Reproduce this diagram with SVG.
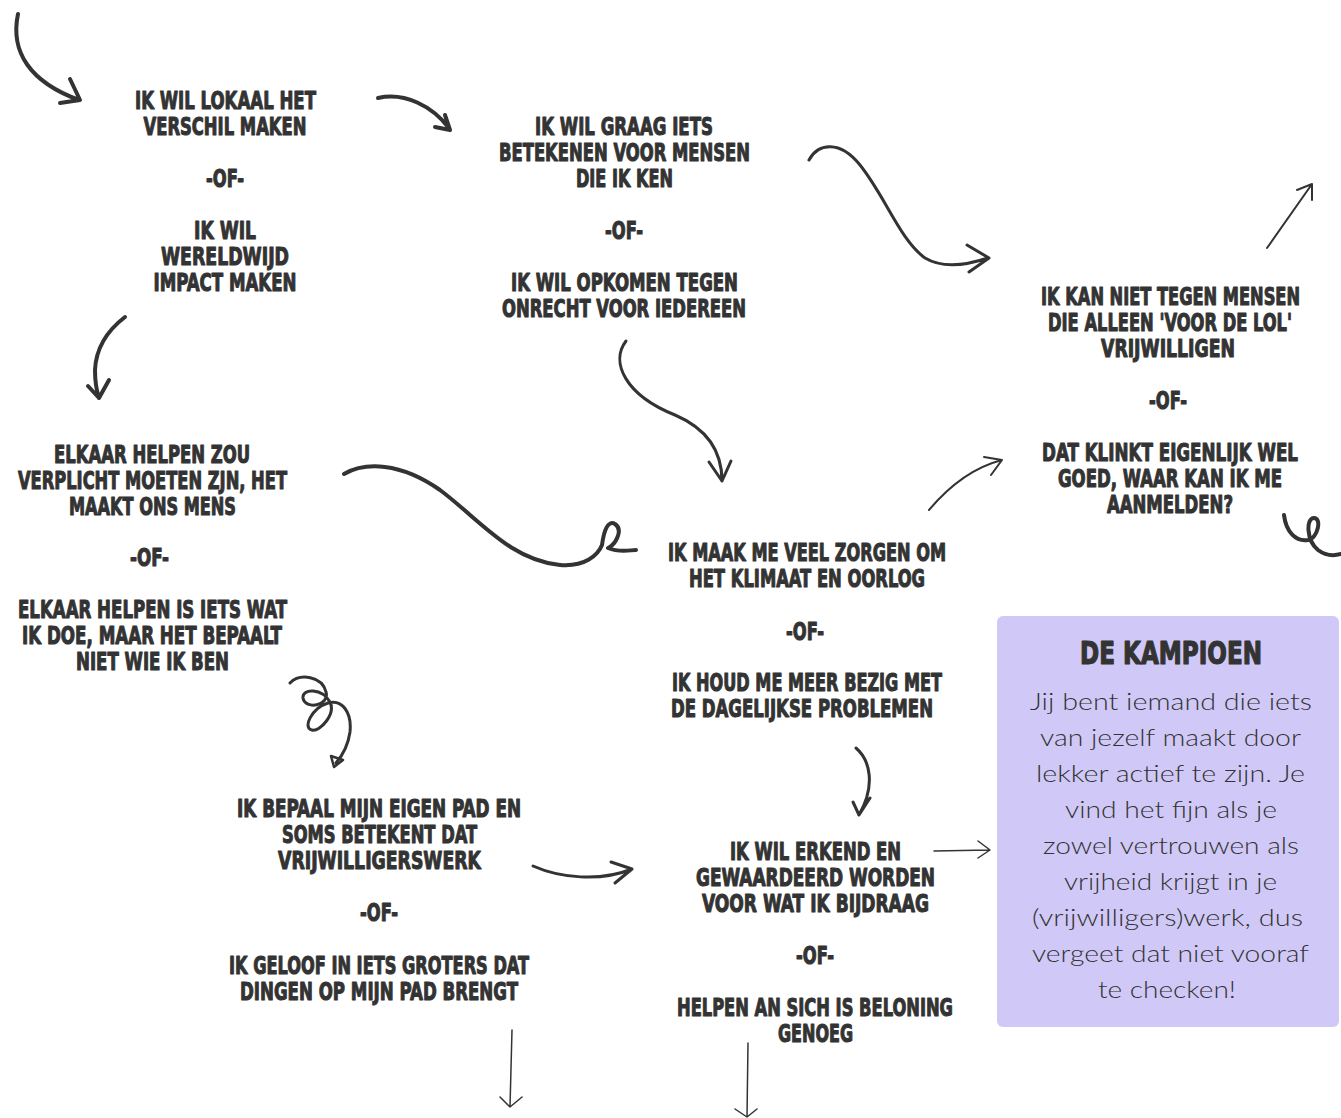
<svg xmlns="http://www.w3.org/2000/svg" width="1341" height="1118" viewBox="0 0 1341 1118">
<style>
.t{font-family:"Liberation Sans Narrow","DejaVu Sans Condensed","Liberation Sans",sans-serif;font-weight:bold;font-size:24px;fill:#333;stroke:#333;stroke-width:1;stroke-linejoin:round;text-anchor:middle}
.e{text-anchor:end}
.h{font-family:"Liberation Sans Narrow","DejaVu Sans Condensed","Liberation Sans",sans-serif;font-weight:bold;font-size:32px;fill:#333;stroke:#333;stroke-width:1.2;stroke-linejoin:round;text-anchor:middle}
.b{font-family:Lato,"Open Sans","Liberation Sans",sans-serif;font-weight:300;font-size:24px;fill:#333;text-anchor:middle}
.c{fill:none;stroke:#333;stroke-linecap:round;stroke-linejoin:round}
.w4{stroke-width:4}
.w3{stroke-width:3}
.w2{stroke-width:2}
.w1{stroke-width:1.5}
</style>
<rect width="1341" height="1118" fill="#ffffff"/>
<g id="connectors">
  <path class="c w4" d="M18,14 C10,52 30,82 79,100 M70,79 L80,100 L60,103"/>
  <path class="c w4" d="M378,98 C405,92 432,106 449,128 M435,127 L450,130 L445,115"/>
  <path class="c w3" d="M809,160 C818,143 840,140 860,165 C885,196 900,240 925,258 C945,270 970,264 988,258 M967,245 L989,258 L969,272"/>
  <path class="c w2" d="M1267,248 L1312,184 M1297,190 L1312,184 L1312,200"/>
  <path class="c w3" d="M626,341 C610,362 625,395 675,415 C710,430 722,455 722,481 M709,462 L722,481 L731,461"/>
  <path class="c w4" d="M344,474 C365,462 400,462 440,490 C480,520 510,560 560,565 C585,567 598,555 602,545 C604,530 608,520 615,524 C624,530 615,545 608,548 C620,553 630,550 636,550"/>
  <path class="c w4" d="M125,317 C108,330 96,348 95,370 C95,382 97,392 99,398 M88,386 L99,398 L109,380"/>
  <path class="c w3" d="M290,683 C300,673 322,676 326,692 C330,706 305,710 303,698 C302,688 322,688 330,702 C336,714 320,732 312,730 C302,728 312,708 328,703 C342,699 352,712 350,732 C348,746 342,756 336,763"/>
  <path d="M331,756 L343,760 L334,767 Z" fill="none" stroke="#333" stroke-width="2.5" stroke-linejoin="round"/>
  <path class="c w3" d="M856,748 C870,760 876,785 859,815 M853,802 L859,815 L870,798"/>
  <path class="c w1" d="M934,851 L990,850 M978,841 L990,850 L978,858"/>
  <path class="c w3" d="M533,866 C560,878 600,882 632,869 M611,862 L632,869 L615,883"/>
  <path class="c w2" d="M929,510 C950,485 975,467 1002,460 M984,457 L1002,460 L991,475"/>
  <path class="c w4" d="M1284,515 C1286,532 1296,542 1308,540 C1318,538 1322,518 1314,518 C1306,518 1306,540 1318,550 C1326,556 1334,556 1341,554"/>
  <path class="c w1" d="M512,1030 L510,1107 M500,1097 L510,1107 L522,1097"/>
  <path class="c w1" d="M748,1043 L747,1117 M735,1109 L747,1117 L757,1109"/>
</g>
<g id="node1">
  <text class="t" x="225.5" y="109" textLength="181" lengthAdjust="spacingAndGlyphs">IK WIL LOKAAL HET</text>
  <text class="t" x="225" y="135" textLength="163" lengthAdjust="spacingAndGlyphs">VERSCHIL MAKEN</text>
  <text class="t" x="225" y="187" textLength="38" lengthAdjust="spacingAndGlyphs">-OF-</text>
  <text class="t" x="225" y="239" textLength="62" lengthAdjust="spacingAndGlyphs">IK WIL</text>
  <text class="t" x="225" y="265" textLength="128" lengthAdjust="spacingAndGlyphs">WERELDWIJD</text>
  <text class="t" x="225" y="291" textLength="143" lengthAdjust="spacingAndGlyphs">IMPACT MAKEN</text>
</g>
<g id="node2">
  <text class="t" x="624" y="135" textLength="178" lengthAdjust="spacingAndGlyphs">IK WIL GRAAG IETS</text>
  <text class="t" x="624.5" y="161" textLength="251" lengthAdjust="spacingAndGlyphs">BETEKENEN VOOR MENSEN</text>
  <text class="t" x="624.5" y="187" textLength="97" lengthAdjust="spacingAndGlyphs">DIE IK KEN</text>
  <text class="t" x="624" y="239" textLength="38" lengthAdjust="spacingAndGlyphs">-OF-</text>
  <text class="t" x="624.5" y="291" textLength="227" lengthAdjust="spacingAndGlyphs">IK WIL OPKOMEN TEGEN</text>
  <text class="t" x="624" y="317" textLength="244" lengthAdjust="spacingAndGlyphs">ONRECHT VOOR IEDEREEN</text>
</g>
<g id="node3">
  <text class="t e" x="1300" y="305" textLength="259" lengthAdjust="spacingAndGlyphs">IK KAN NIET TEGEN MENSEN</text>
  <text class="t e" x="1292" y="331" textLength="244" lengthAdjust="spacingAndGlyphs">DIE ALLEEN 'VOOR DE LOL'</text>
  <text class="t" x="1168" y="357" textLength="134" lengthAdjust="spacingAndGlyphs">VRIJWILLIGEN</text>
  <text class="t" x="1168" y="409" textLength="38" lengthAdjust="spacingAndGlyphs">-OF-</text>
  <text class="t e" x="1298" y="461" textLength="256" lengthAdjust="spacingAndGlyphs">DAT KLINKT EIGENLIJK WEL</text>
  <text class="t e" x="1282" y="487" textLength="224" lengthAdjust="spacingAndGlyphs">GOED, WAAR KAN IK ME</text>
  <text class="t" x="1170" y="513" textLength="126" lengthAdjust="spacingAndGlyphs">AANMELDEN?</text>
</g>
<g id="node4">
  <text class="t" x="152" y="463" textLength="196" lengthAdjust="spacingAndGlyphs">ELKAAR HELPEN ZOU</text>
  <text class="t" x="152.5" y="489" textLength="269" lengthAdjust="spacingAndGlyphs">VERPLICHT MOETEN ZJN, HET</text>
  <text class="t" x="152.5" y="515" textLength="167" lengthAdjust="spacingAndGlyphs">MAAKT ONS MENS</text>
  <text class="t" x="149.5" y="566" textLength="39" lengthAdjust="spacingAndGlyphs">-OF-</text>
  <text class="t" x="152.5" y="618" textLength="269" lengthAdjust="spacingAndGlyphs">ELKAAR HELPEN IS IETS WAT</text>
  <text class="t" x="152" y="644" textLength="260" lengthAdjust="spacingAndGlyphs">IK DOE, MAAR HET BEPAALT</text>
  <text class="t" x="152.5" y="670" textLength="153" lengthAdjust="spacingAndGlyphs">NIET WIE IK BEN</text>
</g>
<g id="node5">
  <text class="t" x="807" y="561" textLength="278" lengthAdjust="spacingAndGlyphs">IK MAAK ME VEEL ZORGEN OM</text>
  <text class="t" x="807" y="587" textLength="236" lengthAdjust="spacingAndGlyphs">HET KLIMAAT EN OORLOG</text>
  <text class="t" x="805" y="640" textLength="38" lengthAdjust="spacingAndGlyphs">-OF-</text>
  <text class="t" x="807" y="691" textLength="270" lengthAdjust="spacingAndGlyphs">IK HOUD ME MEER BEZIG MET</text>
  <text class="t" x="802" y="717" textLength="262" lengthAdjust="spacingAndGlyphs">DE DAGELIJKSE PROBLEMEN</text>
</g>
<g id="node6">
  <text class="t" x="379" y="817" textLength="284" lengthAdjust="spacingAndGlyphs">IK BEPAAL MIJN EIGEN PAD EN</text>
  <text class="t" x="379.5" y="843" textLength="195" lengthAdjust="spacingAndGlyphs">SOMS BETEKENT DAT</text>
  <text class="t" x="379.5" y="869" textLength="203" lengthAdjust="spacingAndGlyphs">VRIJWILLIGERSWERK</text>
  <text class="t" x="379" y="921" textLength="38" lengthAdjust="spacingAndGlyphs">-OF-</text>
  <text class="t" x="379" y="974" textLength="300" lengthAdjust="spacingAndGlyphs">IK GELOOF IN IETS GROTERS DAT</text>
  <text class="t" x="379" y="1000" textLength="278" lengthAdjust="spacingAndGlyphs">DINGEN OP MIJN PAD BRENGT</text>
</g>
<g id="node7">
  <text class="t" x="815.5" y="860" textLength="171" lengthAdjust="spacingAndGlyphs">IK WIL ERKEND EN</text>
  <text class="t" x="815.5" y="886" textLength="239" lengthAdjust="spacingAndGlyphs">GEWAARDEERD WORDEN</text>
  <text class="t" x="815.5" y="912" textLength="227" lengthAdjust="spacingAndGlyphs">VOOR WAT IK BIJDRAAG</text>
  <text class="t" x="815" y="964" textLength="38" lengthAdjust="spacingAndGlyphs">-OF-</text>
  <text class="t" x="815" y="1016" textLength="276" lengthAdjust="spacingAndGlyphs">HELPEN AN SICH IS BELONING</text>
  <text class="t" x="815.5" y="1042" textLength="75" lengthAdjust="spacingAndGlyphs">GENOEG</text>
</g>
<g id="result">
  <rect x="997" y="616" width="342" height="411" rx="6" fill="#d0c9f7"/>
  <text class="h" x="1171" y="664" textLength="182" lengthAdjust="spacingAndGlyphs">DE KAMPIOEN</text>
  <text class="b" x="1171" y="710" textLength="282" lengthAdjust="spacingAndGlyphs">Jij bent iemand die iets</text>
  <text class="b" x="1170.5" y="746" textLength="261" lengthAdjust="spacingAndGlyphs">van jezelf maakt door</text>
  <text class="b" x="1170.5" y="782" textLength="269" lengthAdjust="spacingAndGlyphs">lekker actief te zijn. Je</text>
  <text class="b" x="1171" y="818" textLength="212" lengthAdjust="spacingAndGlyphs">vind het fijn als je</text>
  <text class="b" x="1171" y="854" textLength="256" lengthAdjust="spacingAndGlyphs">zowel vertrouwen als</text>
  <text class="b" x="1170.5" y="890" textLength="213" lengthAdjust="spacingAndGlyphs">vrijheid krijgt in je</text>
  <text class="b" x="1167.5" y="926" textLength="271" lengthAdjust="spacingAndGlyphs">(vrijwilligers)werk, dus</text>
  <text class="b" x="1170.5" y="962" textLength="277" lengthAdjust="spacingAndGlyphs">vergeet dat niet vooraf</text>
  <text class="b" x="1167" y="998" textLength="138" lengthAdjust="spacingAndGlyphs">te checken!</text>
</g>
</svg>
